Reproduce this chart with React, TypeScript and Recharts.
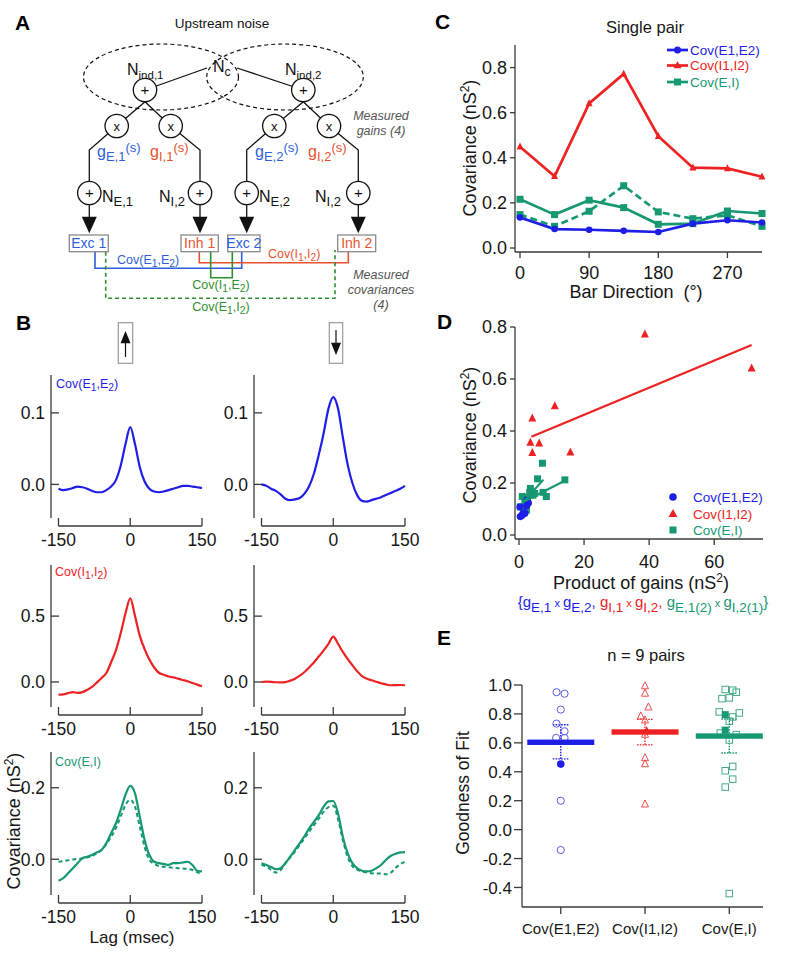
import React from "react";
import {
  LineChart,
  Line,
  XAxis,
  YAxis,
  ReferenceLine,
  ScatterChart,
  Scatter,
  ErrorBar,
} from "recharts";

const FONT = '"Liberation Sans", Arial, Helvetica, sans-serif';
const AX = "#3a3a3a";
const INK = "#161616";
const BLUE = "#1e1ee6";
const RED = "#ee2222";
const GREEN = "#169873";
// softer tones used in the schematic (panel A)
const A_BLUE = "#2f5fd8";
const A_RED = "#e8532f";
const A_GREEN = "#2f8f2f";

// ---- B: covariance vs lag (msec) ----
const lags = [-150, -140, -130, -120, -110, -100, -90, -80, -70, -60, -50, -40, -30, -20, -10, 0, 10, 20, 30, 40, 50, 60, 70, 80, 90, 100, 110, 120, 130, 140, 150];
const e1e2Up = [-0.006, -0.008, -0.007, -0.005, -0.003, -0.004, -0.006, -0.009, -0.011, -0.011, -0.008, -0.003, 0.006, 0.026, 0.056, 0.080, 0.056, 0.024, 0.004, -0.006, -0.010, -0.011, -0.010, -0.008, -0.006, -0.004, -0.002, -0.002, -0.003, -0.004, -0.005];
const e1e2Down = [0.0, -0.002, -0.006, -0.009, -0.014, -0.02, -0.022, -0.021, -0.019, -0.013, -0.002, 0.016, 0.042, 0.072, 0.106, 0.122, 0.106, 0.066, 0.028, 0.002, -0.015, -0.023, -0.024, -0.022, -0.02, -0.018, -0.015, -0.012, -0.009, -0.006, -0.002];
const i1i2Up = [-0.096, -0.094, -0.085, -0.077, -0.083, -0.077, -0.06, -0.038, -0.005, 0.03, 0.068, 0.15, 0.24, 0.37, 0.52, 0.635, 0.5, 0.35, 0.25, 0.17, 0.11, 0.07, 0.055, 0.042, 0.035, 0.025, 0.015, 0.005, -0.008, -0.02, -0.033];
const i1i2Down = [0.0, 0.002, 0.001, -0.002, -0.003, -0.001, 0.01, 0.025, 0.048, 0.076, 0.112, 0.15, 0.195, 0.24, 0.29, 0.345, 0.29, 0.228, 0.175, 0.127, 0.082, 0.045, 0.025, 0.013, 0.002, -0.01, -0.018, -0.025, -0.024, -0.023, -0.025];
const eiUp = [-0.06, -0.053, -0.039, -0.025, -0.011, 0.003, 0.007, 0.012, 0.019, 0.026, 0.045, 0.073, 0.1, 0.138, 0.18, 0.205, 0.184, 0.119, 0.054, 0.012, -0.007, -0.011, -0.013, -0.016, -0.011, -0.011, -0.009, -0.007, -0.016, -0.032, -0.034];
const eiUpDash = [-0.007, -0.005, -0.003, -0.001, 0.001, 0.002, 0.005, 0.009, 0.016, 0.026, 0.042, 0.063, 0.087, 0.119, 0.152, 0.166, 0.147, 0.091, 0.035, -0.002, -0.013, -0.019, -0.021, -0.022, -0.024, -0.025, -0.026, -0.027, -0.03, -0.036, -0.044];
const eiDown = [-0.011, -0.016, -0.022, -0.028, -0.025, -0.011, 0.007, 0.026, 0.045, 0.065, 0.087, 0.105, 0.124, 0.147, 0.162, 0.163, 0.128, 0.063, 0.017, -0.011, -0.025, -0.032, -0.034, -0.032, -0.025, -0.016, -0.002, 0.009, 0.015, 0.019, 0.02];
const eiDownDash = [-0.016, -0.02, -0.03, -0.037, -0.03, -0.011, 0.005, 0.021, 0.04, 0.059, 0.078, 0.096, 0.114, 0.133, 0.146, 0.15, 0.112, 0.054, 0.007, -0.019, -0.029, -0.034, -0.037, -0.039, -0.04, -0.04, -0.042, -0.038, -0.025, -0.014, -0.007];

// ---- C: single pair, covariance vs bar direction ----
const directions = [0, 45, 90, 135, 180, 225, 270, 315];
const covE1E2 = [0.135, 0.084, 0.081, 0.076, 0.071, 0.108, 0.123, 0.113];
const covI1I2 = [0.449, 0.318, 0.641, 0.772, 0.496, 0.356, 0.353, 0.316];
const covEI = [0.216, 0.148, 0.212, 0.179, 0.105, 0.108, 0.164, 0.153];
const covEIdash = [0.148, 0.096, 0.163, 0.276, 0.16, 0.13, 0.145, 0.096];

// ---- D: covariance vs product of gains (same directions as C) ----
const gainE1E2 = [2.5, 1.8, 1.2, 0.9, 0.4, 0.3, 2.9, 2.4];
const gainI1I2 = [4.1, 15.8, 71.5, 38.7, 11.0, 3.5, 6.2, 4.1];
const gainEI = [5.7, 8.4, 14.1, 3.5, 1.5, 0.4, 7.4, 4.3];
const gainEIdash = [1.0, 1.4, 3.3, 7.2, 4.8, 1.8, 2.6, 2.3];
const fitE1E2 = { x: [0.3, 2.9], y: [0.066, 0.12] };
const fitI1I2 = { x: [3.8, 71.5], y: [0.378, 0.731] };
const fitEI = { x: [1.4, 14.2], y: [0.128, 0.21] };
const fitEIdash = { x: [1.4, 7.5], y: [0.128, 0.213] };

// ---- E: goodness of fit, n = 9 pairs ----
const eCats = ["Cov(E1,E2)", "Cov(I1,I2)", "Cov(E,I)"];
const gofE1E2 = [0.95, 0.94, 0.83, 0.733, 0.68, 0.634, 0.634, 0.2, -0.141];
const jitE1E2 = [-0.05, 0.045, 0, -0.05, 0.045, -0.055, 0.045, 0, 0];
const gofE1E2Sel = [0.453];
const gofI1I2 = [0.993, 0.942, 0.847, 0.785, 0.757, 0.658, 0.496, 0.454, 0.176];
const jitI1I2 = [0, 0, 0.04, -0.05, 0, 0, 0, 0, 0];
const gofI1I2Sel = [0.69];
const gofEI = [0.969, 0.964, 0.95, 0.906, 0.911, 0.814, 0.807, 0.779, 0.75, 0.668, 0.657, 0.62, 0.437, 0.407, 0.349, 0.294, -0.442];
const jitEI = [-0.048, 0.04, 0.083, -0.087, 0, -0.119, 0.119, 0.04, 0, -0.107, 0.083, 0, 0.04, -0.048, 0.04, -0.048, 0];
const gofEISel = [0.795, 0.688];
const jitEISel = [-0.048, -0.048];
const gofMean = [0.604, 0.675, 0.647];
const gofLow = [0.489, 0.586, 0.53];
const gofHigh = [0.725, 0.762, 0.765];

const fmt1 = (v: number) => Number(v).toFixed(1);

function InTick(props: any) {
  const { x, y, payload } = props;
  return (
    <g>
      <line x1={x} y1={y} x2={x + 8} y2={y} stroke={AX} strokeWidth={1.3} />
      <text x={x - 6} y={y} dy="0.36em" textAnchor="end" fontSize={17.5} fill={INK}>
        {fmt1(payload.value)}
      </text>
    </g>
  );
}

function CovTrace({ left, top, plotH, domain, ticks, color, solid, dashed }: {
  left: number; top: number; plotH: number; domain: [number, number]; ticks: number[];
  color: string; solid: number[]; dashed?: number[];
}) {
  const data = lags.map((lag, i) => ({ lag, a: solid[i], b: dashed ? dashed[i] : null }));
  return (
    <div style={{ position: "absolute", left, top }}>
      <LineChart width={230} height={plotH + 50} data={data} margin={{ top: 10, right: 28, left: 0, bottom: 0 }}>
        <XAxis dataKey="lag" type="number" domain={[-150, 150]} ticks={[-150, 0, 150]} interval={0}
          padding={{ left: 7.5, right: 0 }} height={40} axisLine={false} tickSize={8} tickMargin={8}
          tickLine={{ stroke: AX, strokeWidth: 1.3 }} tick={{ fill: INK, fontSize: 17.5 }} />
        <YAxis type="number" domain={domain} ticks={ticks} interval={0} width={51} tickSize={0} tickMargin={0}
          tickLine={false} axisLine={{ stroke: AX, strokeWidth: 1.3 }} tick={<InTick />} />
        <ReferenceLine segment={[{ x: -150, y: domain[0] }, { x: 150, y: domain[0] }]} ifOverflow="visible"
          shape={(p: any) => <line x1={p.x1} y1={p.y1 + 8} x2={p.x2} y2={p.y2 + 8} stroke={AX} strokeWidth={1.3} />} />
        {dashed && (
          <Line dataKey="b" type="monotone" stroke={color} strokeWidth={2} strokeDasharray="4 3" dot={false} isAnimationActive={false} />
        )}
        <Line dataKey="a" type="monotone" stroke={color} strokeWidth={2.2} dot={false} isAnimationActive={false} />
      </LineChart>
    </div>
  );
}

const squareDot = (c: string, s: number) => (p: any) => (
  <rect key={`s${p.index}`} x={p.cx - s / 2} y={p.cy - s / 2} width={s} height={s} fill={c} />
);
const circleDot = (c: string, r: number) => (p: any) => (
  <circle key={`c${p.index}`} cx={p.cx} cy={p.cy} r={r} fill={c} />
);
const triDot = (c: string, s: number) => (p: any) => (
  <path key={`t${p.index}`} d={`M${p.cx},${p.cy - s * 0.6}L${p.cx + s / 2},${p.cy + s * 0.4}L${p.cx - s / 2},${p.cy + s * 0.4}Z`} fill={c} />
);
const openCircle = (c: string, r: number) => (p: any) => (
  <circle cx={p.cx} cy={p.cy} r={r} fill="none" stroke={c} strokeWidth={1} />
);
const openTri = (c: string, s: number) => (p: any) => (
  <path d={`M${p.cx},${p.cy - s * 0.6}L${p.cx + s / 2},${p.cy + s * 0.4}L${p.cx - s / 2},${p.cy + s * 0.4}Z`} fill="none" stroke={c} strokeWidth={1} />
);
const openSquare = (c: string, s: number) => (p: any) => (
  <rect x={p.cx - s / 2} y={p.cy - s / 2} width={s} height={s} fill="none" stroke={c} strokeWidth={1} />
);
const noShape = () => <g />;
const meanBar = (c: string) => (p: any) => (
  <rect x={p.cx - 33.5} y={p.cy - 2.7} width={67} height={5.4} fill={c} />
);

function PanelC() {
  const data = directions.map((d, i) => ({ dir: d, e1e2: covE1E2[i], i1i2: covI1I2[i], ei: covEI[i], eiDash: covEIdash[i] }));
  return (
    <div style={{ position: "absolute", left: 400, top: 35 }}>
      <LineChart width={400} height={275} data={data} margin={{ top: 10, right: 38, left: 0, bottom: 0 }}>
        <XAxis dataKey="dir" type="number" domain={[0, 315]} ticks={[0, 90, 180, 270]} interval={0}
          padding={{ left: 5, right: 0 }} height={58} tickSize={6} tickMargin={8}
          axisLine={{ stroke: AX, strokeWidth: 1.3 }} tickLine={{ stroke: AX, strokeWidth: 1.3 }}
          tick={{ fill: INK, fontSize: 18 }} />
        <YAxis type="number" domain={[0, 0.9]} ticks={[0, 0.2, 0.4, 0.6, 0.8]} interval={0}
          padding={{ top: 0, bottom: 4 }} width={115} tickSize={5} tickMargin={3} tickFormatter={fmt1}
          axisLine={{ stroke: AX, strokeWidth: 1.3 }} tickLine={{ stroke: AX, strokeWidth: 1.3 }}
          tick={{ fill: INK, fontSize: 18 }} />
        <Line dataKey="eiDash" type="linear" stroke={GREEN} strokeWidth={2.7} strokeDasharray="7 4" dot={squareDot(GREEN, 7)} isAnimationActive={false} />
        <Line dataKey="ei" type="linear" stroke={GREEN} strokeWidth={2.7} dot={squareDot(GREEN, 7)} isAnimationActive={false} />
        <Line dataKey="e1e2" type="linear" stroke={BLUE} strokeWidth={2.7} dot={circleDot(BLUE, 3.3)} isAnimationActive={false} />
        <Line dataKey="i1i2" type="linear" stroke={RED} strokeWidth={2.7} dot={triDot(RED, 7)} isAnimationActive={false} />
      </LineChart>
    </div>
  );
}

const pts = (xs: number[], ys: number[]) => xs.map((x, i) => ({ x, y: ys[i] }));

function PanelD() {
  return (
    <div style={{ position: "absolute", left: 400, top: 317 }}>
      <ScatterChart width={400} height={262} margin={{ top: 10, right: 37, left: 0, bottom: 0 }}>
        <XAxis dataKey="x" type="number" domain={[0, 75]} ticks={[0, 20, 40, 60]} interval={0}
          padding={{ left: 4, right: 0 }} height={40} tickSize={6} tickMargin={10}
          axisLine={{ stroke: AX, strokeWidth: 1.3 }} tickLine={{ stroke: AX, strokeWidth: 1.3 }}
          tick={{ fill: INK, fontSize: 18 }} />
        <YAxis dataKey="y" type="number" domain={[0, 0.8]} ticks={[0, 0.2, 0.4, 0.6, 0.8]} interval={0}
          padding={{ top: 0, bottom: 4 }} width={115} tickSize={5} tickMargin={3} tickFormatter={fmt1}
          axisLine={{ stroke: AX, strokeWidth: 1.3 }} tickLine={{ stroke: AX, strokeWidth: 1.3 }}
          tick={{ fill: INK, fontSize: 18 }} />
        <Scatter data={pts(gainEI, covEI)} shape={squareDot(GREEN, 7)} isAnimationActive={false} />
        <Scatter data={pts(gainEIdash, covEIdash)} shape={squareDot(GREEN, 7)} isAnimationActive={false} />
        <Scatter data={pts(gainE1E2, covE1E2)} shape={circleDot(BLUE, 3.6)} isAnimationActive={false} />
        <Scatter data={pts(gainI1I2, covI1I2)} shape={triDot(RED, 8)} isAnimationActive={false} />
        <Scatter data={pts(fitEI.x, fitEI.y)} line={{ stroke: GREEN, strokeWidth: 2.2 }} shape={noShape} isAnimationActive={false} />
        <Scatter data={pts(fitEIdash.x, fitEIdash.y)} line={{ stroke: GREEN, strokeWidth: 2.2 }} shape={noShape} isAnimationActive={false} />
        <Scatter data={pts(fitE1E2.x, fitE1E2.y)} line={{ stroke: BLUE, strokeWidth: 2.2 }} shape={noShape} isAnimationActive={false} />
        <Scatter data={pts(fitI1I2.x, fitI1I2.y)} line={{ stroke: RED, strokeWidth: 2.2 }} shape={noShape} isAnimationActive={false} />
      </ScatterChart>
    </div>
  );
}

function PanelE() {
  const jit = (vals: number[], j: number[], cat: number) => vals.map((v, i) => ({ x: cat + j[i], y: v }));
  const mean = (i: number) => [{ x: i + 1, y: gofMean[i], err: [gofMean[i] - gofLow[i], gofHigh[i] - gofMean[i]] }];
  const cols = [BLUE, RED, GREEN];
  return (
    <div style={{ position: "absolute", left: 400, top: 675 }}>
      <ScatterChart width={400} height={265} margin={{ top: 10, right: 37, left: 0, bottom: 0 }}>
        <XAxis dataKey="x" type="number" domain={[0.54, 3.4]} ticks={[1, 2, 3]} interval={0}
          tickFormatter={(v: number) => eCats[v - 1]} height={33} tickSize={7} tickMargin={9}
          axisLine={{ stroke: AX, strokeWidth: 1.3 }} tickLine={{ stroke: AX, strokeWidth: 1.3 }}
          tick={{ fill: INK, fontSize: 15 }} />
        <YAxis dataKey="y" type="number" domain={[-0.535, 1.0]} ticks={[-0.4, -0.2, 0, 0.2, 0.4, 0.6, 0.8, 1.0]} interval={0}
          width={122} tickSize={8} tickMargin={2} tickFormatter={fmt1}
          axisLine={{ stroke: AX, strokeWidth: 1.3 }} tickLine={{ stroke: AX, strokeWidth: 1.3 }}
          tick={{ fill: INK, fontSize: 17 }} />
        <Scatter data={jit(gofE1E2, jitE1E2, 1)} shape={openCircle("#5a5ae8", 3.6)} isAnimationActive={false} />
        <Scatter data={jit(gofE1E2Sel, [0], 1)} shape={circleDot(BLUE, 3.8)} isAnimationActive={false} />
        <Scatter data={jit(gofI1I2, jitI1I2, 2)} shape={openTri("#ea4c4c", 7)} isAnimationActive={false} />
        <Scatter data={jit(gofI1I2Sel, [0.02], 2)} shape={triDot(RED, 6)} isAnimationActive={false} />
        <Scatter data={jit(gofEI, jitEI, 3)} shape={openSquare("#45a886", 6.5)} isAnimationActive={false} />
        <Scatter data={jit(gofEISel, jitEISel, 3)} shape={squareDot(GREEN, 7)} isAnimationActive={false} />
        {cols.map((c, i) => (
          <Scatter key={i} data={mean(i)} shape={meanBar(c)} isAnimationActive={false}>
            <ErrorBar dataKey="err" direction="y" width={8} stroke={c} strokeWidth={1.4} strokeDasharray="1.6 1.2" />
          </Scatter>
        ))}
      </ScatterChart>
    </div>
  );
}

function Circ({ cx, cy, sym }: { cx: number; cy: number; sym: string }) {
  return (
    <g>
      <circle cx={cx} cy={cy} r={11.7} fill="#fff" stroke="#111" strokeWidth={1.3} />
      <text x={cx} y={cy} dy="0.36em" textAnchor="middle" fontSize={sym === "+" ? 15 : 13} fill="#111">{sym}</text>
    </g>
  );
}

function Gain({ x, k, color }: { x: number; k: string; color: string }) {
  return (
    <text x={x} y={157} fill={color} fontSize={16}>
      g<tspan fontSize={13} dy={4}>{k}</tspan><tspan fontSize={13} dy={-9}>(s)</tspan>
    </text>
  );
}

function NLab({ x, y, k, sz = 13 }: { x: number; y: number; k: string; sz?: number }) {
  return (
    <text x={x} y={y} fill="#111" fontSize={16}>
      N<tspan fontSize={sz} dy={4}>{k}</tspan>
    </text>
  );
}

function Box({ x, w, label, color }: { x: number; w: number; label: string; color: string }) {
  return (
    <g>
      <rect x={x} y={235} width={w} height={16.7} fill="#fff" stroke="#8a8a8a" strokeWidth={1.3} />
      <text x={x + w / 2} y={248.3} textAnchor="middle" fontSize={14} fill={color}>{label}</text>
    </g>
  );
}

function CovText({ x, y, a, b, color, size = 12.5, anchor = "start" }: {
  x: number; y: number; a: [string, string]; b: [string, string]; color: string; size?: number; anchor?: string;
}) {
  const s = size * 0.82;
  return (
    <text x={x} y={y} fill={color} fontSize={size} textAnchor={anchor as any}>
      Cov({a[0]}<tspan fontSize={s} dy={3}>{a[1]}</tspan><tspan dy={-3}>,{b[0]}</tspan>
      <tspan fontSize={s} dy={3}>{b[1]}</tspan><tspan dy={-3}>)</tspan>
    </text>
  );
}

function Arrow({ x }: { x: number }) {
  return (
    <g>
      <line x1={x} y1={204} x2={x} y2={218} stroke="#111" strokeWidth={1.3} />
      <path d={`M${x - 7.5},216.7L${x + 7.5},216.7L${x},233.3Z`} fill="#111" />
    </g>
  );
}

function Schematic() {
  const k = "#111";
  const note = { textAnchor: "middle" as const, fontSize: 12.5, fontStyle: "italic", fill: "#555" };
  return (
    <g>
      <text x={222} y={28} textAnchor="middle" fontSize={13.5} fill={k}>Upstream noise</text>
      <ellipse cx={161} cy={77} rx={77.5} ry={33} fill="none" stroke={k} strokeWidth={1.2} strokeDasharray="4 3" />
      <ellipse cx={285} cy={77} rx={78.3} ry={33} fill="none" stroke={k} strokeWidth={1.2} strokeDasharray="4 3" />
      <line x1={145} y1={90} x2={207} y2={68} stroke={k} strokeWidth={1.3} />
      <line x1={237} y1={68} x2={303.3} y2={90} stroke={k} strokeWidth={1.3} />
      <line x1={145} y1={101.7} x2={116.7} y2={126} stroke={k} strokeWidth={1.3} />
      <line x1={145} y1={101.7} x2={170.7} y2={126} stroke={k} strokeWidth={1.3} />
      <line x1={303.3} y1={101.7} x2={274.3} y2={126} stroke={k} strokeWidth={1.3} />
      <line x1={303.3} y1={101.7} x2={329} y2={126} stroke={k} strokeWidth={1.3} />
      <polyline points="116.7,126 89.3,150 89.3,193" fill="none" stroke={k} strokeWidth={1.3} />
      <polyline points="170.7,126 200,150 200,193" fill="none" stroke={k} strokeWidth={1.3} />
      <polyline points="274.3,126 246.7,150 246.7,193" fill="none" stroke={k} strokeWidth={1.3} />
      <polyline points="329,126 358.3,150 358.3,193" fill="none" stroke={k} strokeWidth={1.3} />
      <NLab x={127} y={75} k="ind,1" sz={11.5} />
      <NLab x={213} y={72} k="c" sz={12} />
      <NLab x={285} y={75} k="ind,2" sz={11.5} />
      <Circ cx={145} cy={90} sym="+" />
      <Circ cx={303.3} cy={90} sym="+" />
      <Circ cx={116.7} cy={126} sym="x" />
      <Circ cx={170.7} cy={126} sym="x" />
      <Circ cx={274.3} cy={126} sym="x" />
      <Circ cx={329} cy={126} sym="x" />
      <Gain x={97} k="E,1" color={A_BLUE} />
      <Gain x={150} k="I,1" color={A_RED} />
      <Gain x={255} k="E,2" color={A_BLUE} />
      <Gain x={308} k="I,2" color={A_RED} />
      {[89.3, 200, 246.7, 358.3].map((x) => <Arrow key={x} x={x} />)}
      {[89.3, 200, 246.7, 358.3].map((x) => <Circ key={`p${x}`} cx={x} cy={193} sym="+" />)}
      <NLab x={102} y={202} k="E,1" />
      <NLab x={159} y={202} k="I,2" />
      <NLab x={259} y={202} k="E,2" />
      <NLab x={315} y={202} k="I,2" />
      <text x={381} y={120} {...note}>Measured</text>
      <text x={381} y={135} {...note}>gains (4)</text>
      {/* covariance brackets */}
      <polyline points="95,251.7 95,268.3 241.7,268.3 241.7,251.7" fill="none" stroke={A_BLUE} strokeWidth={1.6} />
      <polyline points="199.3,251.7 199.3,262.7 348.3,262.7 348.3,251.7" fill="none" stroke={A_RED} strokeWidth={1.6} />
      <polyline points="210.7,251.7 210.7,277.7 232.3,277.7 232.3,251.7" fill="none" stroke={A_GREEN} strokeWidth={1.6} />
      <polyline points="105.7,251.7 105.7,298.3 335,298.3 335,250" fill="none" stroke={A_GREEN} strokeWidth={1.6} strokeDasharray="4 3" />
      <Box x={69.3} w={39} label="Exc 1" color={A_BLUE} />
      <Box x={181} w={37.3} label="Inh 1" color={A_RED} />
      <Box x={227.7} w={32.3} label="Exc 2" color={A_BLUE} />
      <Box x={337.7} w={38} label="Inh 2" color={A_RED} />
      <CovText x={117} y={264} a={["E", "1"]} b={["E", "2"]} color={A_BLUE} />
      <CovText x={268} y={258} a={["I", "1"]} b={["I", "2"]} color={A_RED} />
      <CovText x={221} y={289} a={["I", "1"]} b={["E", "2"]} color={A_GREEN} anchor="middle" />
      <CovText x={221} y={311} a={["E", "1"]} b={["I", "2"]} color={A_GREEN} anchor="middle" />
      <text x={381} y={279} {...note}>Measured</text>
      <text x={381} y={294} {...note}>covariances</text>
      <text x={381} y={309} {...note}>(4)</text>
    </g>
  );
}

function CovAxisTitle({ x, y }: { x: number; y: number }) {
  return (
    <text transform={`translate(${x},${y}) rotate(-90)`} textAnchor="middle" fontSize={18} fill={INK}>
      Covariance (nS<tspan fontSize={12} dy={-7}>2</tspan><tspan dy={7}>)</tspan>
    </text>
  );
}

function Overlay() {
  const legRow = (y: number, c: string, label: string, m: "c" | "t" | "s") => (
    <g key={label}>
      <line x1={667} y1={y} x2={688} y2={y} stroke={c} strokeWidth={2.7} />
      {m === "c" && <circle cx={677.5} cy={y} r={3.5} fill={c} />}
      {m === "t" && <path d={`M677.5,${y - 4.2}L681.5,${y + 2.8}L673.5,${y + 2.8}Z`} fill={c} />}
      {m === "s" && <rect x={674} y={y - 3.5} width={7} height={7} fill={c} />}
      <text x={690} y={y} dy="0.36em" fontSize={13.5} fill={c}>{label}</text>
    </g>
  );
  const gs = 15, ss = 13.5, xs = 11;
  return (
    <svg width={800} height={969} style={{ position: "absolute", left: 0, top: 0, pointerEvents: "none" }}>
      {/* panel letters */}
      <g fontWeight="bold" fontSize={21} fill="#000">
        <text x={15} y={30}>A</text>
        <text x={16} y={330}>B</text>
        <text x={435} y={29}>C</text>
        <text x={437} y={329}>D</text>
        <text x={437} y={645}>E</text>
      </g>
      <Schematic />

      {/* B annotations */}
      <rect x={118.3} y={322.7} width={14.4} height={40.6} fill="none" stroke="#9a9a9a" strokeWidth={1.2} />
      <line x1={125.5} y1={342} x2={125.5} y2={357} stroke="#111" strokeWidth={1.2} />
      <path d="M120.5,343.3L130.5,343.3L125.5,331Z" fill="#111" />
      <rect x={329.3} y={322.7} width={13.4} height={40.6} fill="none" stroke="#9a9a9a" strokeWidth={1.2} />
      <line x1={336} y1={330} x2={336} y2={344} stroke="#111" strokeWidth={1.2} />
      <path d="M331,342.7L341,342.7L336,355Z" fill="#111" />
      <CovText x={56} y={388} a={["E", "1"]} b={["E", "2"]} color={BLUE} />
      <CovText x={55} y={575.5} a={["I", "1"]} b={["I", "2"]} color={RED} />
      <text x={55} y={765.5} fontSize={12.5} fill={GREEN}>Cov(E,I)</text>
      <CovAxisTitle x={20} y={821} />
      <text x={132} y={943} textAnchor="middle" fontSize={17} fill={INK}>Lag (msec)</text>

      {/* C annotations */}
      <text x={645} y={33} textAnchor="middle" fontSize={16.5} fill={INK}>Single pair</text>
      <CovAxisTitle x={476} y={148} />
      <text x={636} y={298} textAnchor="middle" fontSize={18} fill={INK}>{"Bar Direction\u00A0\u00A0(°)"}</text>
      {legRow(50, BLUE, "Cov(E1,E2)", "c")}
      {legRow(65.5, RED, "Cov(I1,I2)", "t")}
      {legRow(82, GREEN, "Cov(E,I)", "s")}

      {/* D annotations */}
      <CovAxisTitle x={476} y={435} />
      <text x={641} y={589} textAnchor="middle" fontSize={18} fill={INK}>
        Product of gains (nS<tspan fontSize={12} dy={-7}>2</tspan><tspan dy={7}>)</tspan>
      </text>
      <text x={643} y={607} textAnchor="middle" fontSize={gs}>
        <tspan fill={BLUE}>{"{g"}</tspan><tspan fill={BLUE} fontSize={ss} dy={5}>E,1</tspan>
        <tspan fill={BLUE} fontSize={xs} dy={-5}> x </tspan><tspan fill={BLUE}>g</tspan>
        <tspan fill={BLUE} fontSize={ss} dy={5}>E,2</tspan><tspan fill={BLUE} dy={-5}>, </tspan>
        <tspan fill={RED}>g</tspan><tspan fill={RED} fontSize={ss} dy={5}>I,1</tspan>
        <tspan fill={RED} fontSize={xs} dy={-5}> x </tspan><tspan fill={RED}>g</tspan>
        <tspan fill={RED} fontSize={ss} dy={5}>I,2</tspan><tspan fill={RED} dy={-5}>, </tspan>
        <tspan fill={GREEN}>g</tspan><tspan fill={GREEN} fontSize={ss} dy={5}>E,1(2)</tspan>
        <tspan fill={GREEN} fontSize={xs} dy={-5}> x </tspan><tspan fill={GREEN}>g</tspan>
        <tspan fill={GREEN} fontSize={ss} dy={5}>I,2(1)</tspan><tspan fill={GREEN} dy={-5}>{"}"}</tspan>
      </text>
      <g fontSize={13.5}>
        <circle cx={673} cy={497} r={3.8} fill={BLUE} />
        <text x={693} y={497} dy="0.36em" fill={BLUE}>Cov(E1,E2)</text>
        <path d="M673,509L677.5,517L668.5,517Z" fill={RED} />
        <text x={693} y={514.5} dy="0.36em" fill={RED}>Cov(I1,I2)</text>
        <rect x={669.5} y={526.5} width={7} height={7} fill={GREEN} />
        <text x={693} y={530.5} dy="0.36em" fill={GREEN}>Cov(E,I)</text>
      </g>

      {/* E annotations */}
      <text x={646} y={661} textAnchor="middle" fontSize={16.5} fill={INK}>n = 9 pairs</text>
      <text transform="translate(469,793) rotate(-90)" textAnchor="middle" fontSize={17.5} fill={INK}>Goodness of Fit</text>
    </svg>
  );
}

export default function App() {
  return (
    <div style={{ position: "absolute", left: 0, top: 0, width: 800, height: 969, background: "#fff", fontFamily: FONT, overflow: "hidden" }}>
      <CovTrace left={0} top={365} plotH={143} domain={[-0.047, 0.153]} ticks={[0, 0.1]} color={BLUE} solid={e1e2Up} />
      <CovTrace left={203} top={365} plotH={143} domain={[-0.047, 0.153]} ticks={[0, 0.1]} color={BLUE} solid={e1e2Down} />
      <CovTrace left={0} top={555} plotH={142} domain={[-0.19, 0.888]} ticks={[0, 0.5]} color={RED} solid={i1i2Up} />
      <CovTrace left={203} top={555} plotH={142} domain={[-0.19, 0.888]} ticks={[0, 0.5]} color={RED} solid={i1i2Down} />
      <CovTrace left={0} top={742} plotH={143} domain={[-0.1, 0.3]} ticks={[0, 0.2]} color={GREEN} solid={eiUp} dashed={eiUpDash} />
      <CovTrace left={203} top={742} plotH={143} domain={[-0.1, 0.3]} ticks={[0, 0.2]} color={GREEN} solid={eiDown} dashed={eiDownDash} />
      <PanelC />
      <PanelD />
      <PanelE />
      <Overlay />
    </div>
  );
}
